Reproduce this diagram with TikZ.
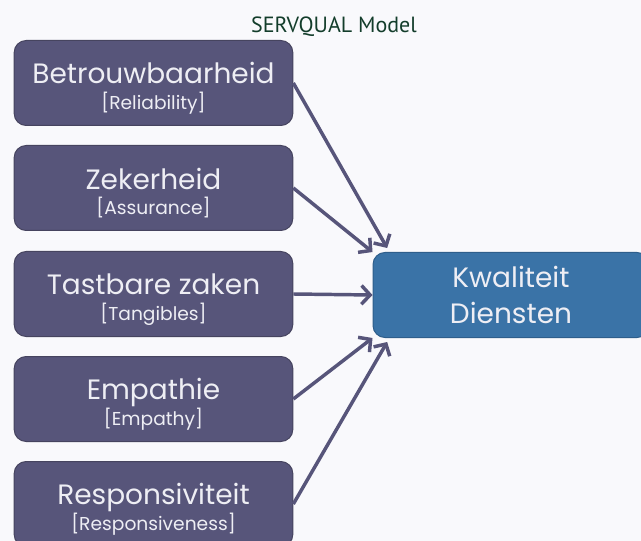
\documentclass[tikz,border=0pt]{standalone}
\usepackage{fontspec}
\setmainfont{Poppins}
\newfontfamily\titlefont{PT Sans}
\usetikzlibrary{arrows.meta}
\definecolor{pagebg}{HTML}{F9F9FC}
\definecolor{factorfill}{HTML}{57557A}
\definecolor{factoredge}{HTML}{46445F}
\definecolor{resultfill}{HTML}{3A73A7}
\definecolor{resultedge}{HTML}{2E5E8B}
\definecolor{boxtext}{HTML}{EEEEF4}
\definecolor{titlegreen}{HTML}{133D2B}
\newcommand{\factortext}[2]{\rule{0pt}{24pt}#1\\[-3pt]{\fontsize{14}{16}\selectfont #2}}
\tikzset{
  factor/.style={draw=factoredge, fill=factorfill, line width=0.75pt,
    rounded corners=9pt, minimum width=209pt, minimum height=63.75pt,
    text=boxtext, align=center, font=\fontsize{21}{22}\selectfont},
  result/.style={factor, draw=resultedge, fill=resultfill,
    minimum width=207pt, font=\fontsize{21}{27}\selectfont},
  arr/.style={draw=factorfill, line width=2.6pt,
    -{Straight Barb[length=6.5pt,width=14pt]}}
}
\begin{document}
\begin{tikzpicture}[x=0.75pt,y=-0.75pt]
  \fill[pagebg] (0,0) rectangle (641,541);
  \useasboundingbox (0,0) rectangle (641,541);
  \node[font=\titlefont\fontsize{16.5}{18}\selectfont, text=titlegreen] (title) at (334,27) {SERVQUAL Model};
  % factors
  \node[factor] (rel) at (153.5,83) {\factortext{Betrouwbaarheid}{[Reliability]}};
  \node[factor] (ass) at (153.5,188) {\factortext{Zekerheid}{[Assurance]}};
  \node[factor] (tan) at (153.5,294) {\factortext{Tastbare zaken}{[Tangibles]}};
  \node[factor] (emp) at (153.5,399) {\factortext{Empathie}{[Empathy]}};
  \node[factor] (res) at (153.5,504) {\factortext{Responsiviteit}{[Responsiveness]}};
  % result
  \node[result] (kd) at (511,295) {Kwaliteit\\Diensten};
  \draw[arr] (rel.east) -- ([xshift=11pt,yshift=3pt]kd.north west);
  \draw[arr] (ass.east) -- (kd.north west);
  \draw[arr] (tan.east) -- (kd.west);
  \draw[arr] (emp.east) -- (kd.south west);
  \draw[arr] (res.east) -- ([xshift=11pt,yshift=-3pt]kd.south west);
\end{tikzpicture}
\end{document}
